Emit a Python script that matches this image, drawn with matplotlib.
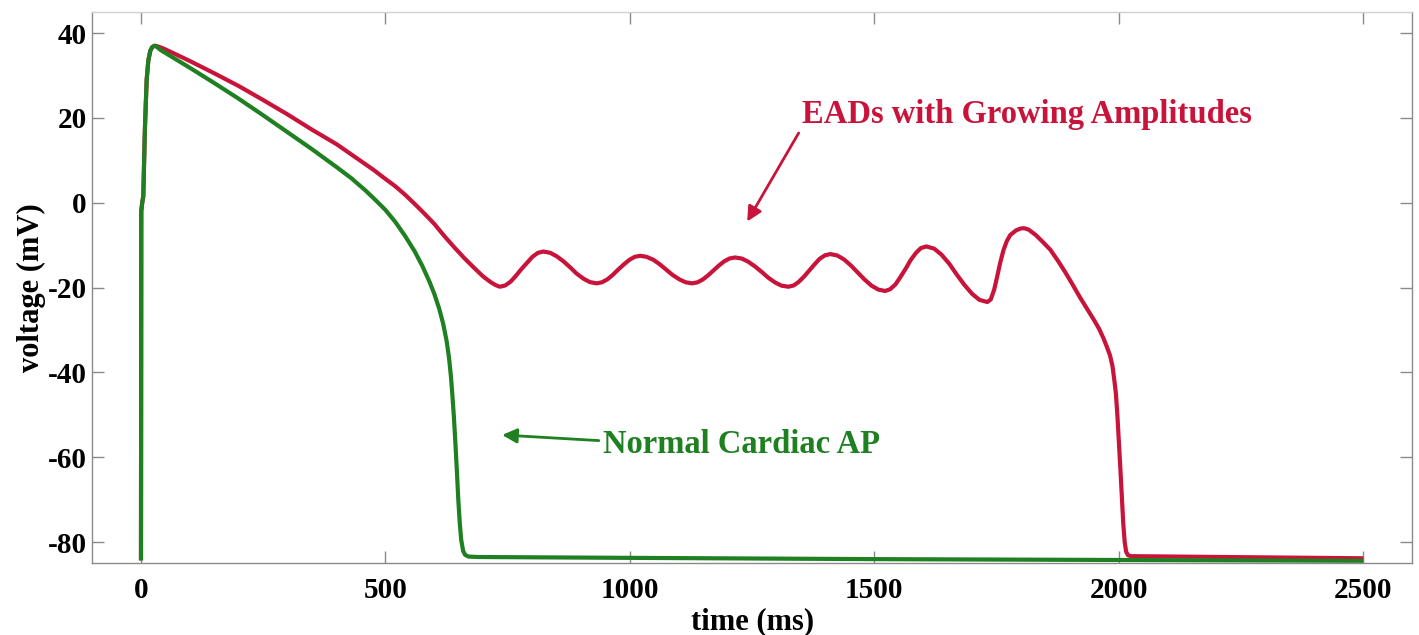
import matplotlib
matplotlib.use("Agg")
import matplotlib.pyplot as plt

# ---- data ----
t_normal = [0, 0.6, 2.5, 4.7, 6, 8, 10, 11.7, 15, 19, 23, 28, 33, 40, 60, 80, 100, 150, 200,
            250, 300, 350, 400, 430, 460, 480, 500, 520, 540, 560, 575, 590, 600, 610, 618,
            625, 630, 634, 637, 640, 643, 646, 649, 652, 655, 659, 663, 670, 690, 1000, 1500,
            2000, 2500]
v_normal = [-84.3, -2, 0, 1.5, 8, 17.3, 24, 29.1, 33.5, 35.8, 36.7, 37.0, 36.7, 36.0, 34.6,
            33.2, 31.8, 28.2, 24.5, 20.6, 16.6, 12.6, 8.4, 5.8, 2.8, 0.6, -1.7, -4.5, -7.8,
            -11.5, -14.8, -18.6, -21.5, -25.0, -28.5, -32.5, -36.5, -41.0, -45.5, -50.5, -56.5,
            -63.0, -70.0, -75.5, -79.5, -82.1, -83.0, -83.4, -83.5, -83.7, -84.0, -84.2, -84.4]

t_ead = [0, 0.6, 2.5, 4.7, 6, 8, 10, 11.7, 15, 19, 23, 28, 33, 40, 45, 60, 80, 100, 150, 200,
         250, 300, 350, 400, 450, 475, 500, 520, 540, 560, 580, 600, 620, 640, 660, 680, 700,
         715, 725, 734,
         745, 756, 767, 778, 790, 801, 812, 823,
         837, 850, 864, 878, 891, 905, 918, 932,
         943, 954, 965, 976, 988, 999, 1010, 1021,
         1034, 1048, 1061, 1074, 1087, 1101, 1114, 1127,
         1138, 1149, 1160, 1171, 1182, 1193, 1204, 1215,
         1229, 1242, 1256, 1270, 1283, 1297, 1310, 1324,
         1335, 1345, 1356, 1367, 1378, 1388, 1399, 1410,
         1424, 1438, 1452, 1466, 1480, 1494, 1508, 1522,
         1532, 1543, 1553, 1564, 1574, 1585, 1595, 1606,
         1622, 1637, 1653, 1668, 1684, 1700, 1715, 1731,
         1738, 1745, 1751, 1757, 1764, 1771, 1778, 1790, 1800, 1806,
         1815, 1830, 1845, 1860, 1875, 1890, 1905, 1920, 1935, 1950, 1960, 1968, 1975, 1982,
         1987, 1991, 1994, 1997, 2000, 2003, 2006, 2009, 2012, 2015, 2019, 2025, 2500]
v_ead = [-84.3, -2, 0, 1.5, 8, 17.3, 24, 29.1, 33.5, 35.8, 36.7, 37.0, 36.9, 36.6, 36.4, 35.6,
         34.5, 33.4, 30.5, 27.5, 24.2, 20.8, 17.2, 13.8, 9.8, 7.8, 5.6, 3.9, 1.9, -0.3, -2.6,
         -5.0, -7.8, -10.4, -12.9, -15.2, -17.4, -18.7, -19.4, -19.8,
         -19.5, -18.6, -17.2, -15.65, -14.1, -12.7, -11.8, -11.5,
         -11.8, -12.6, -13.8, -15.25, -16.7, -17.9, -18.7, -19.0,
         -18.75, -18.05, -17.0, -15.75, -14.5, -13.45, -12.75, -12.5,
         -12.75, -13.45, -14.5, -15.75, -17.0, -18.05, -18.75, -19.0,
         -18.77, -18.1, -17.1, -15.95, -14.8, -13.8, -13.13, -12.9,
         -13.16, -13.9, -15.03, -16.35, -17.67, -18.8, -19.54, -19.8,
         -19.5, -18.68, -17.42, -15.95, -14.48, -13.22, -12.39, -12.1,
         -12.43, -13.37, -14.79, -16.45, -18.11, -19.53, -20.47, -20.8,
         -20.4, -19.27, -17.56, -15.55, -13.54, -11.83, -10.7, -10.3,
         -10.8, -12.21, -14.35, -16.85, -19.35, -21.49, -22.9, -23.4,
         -22.8, -20.5, -17.5, -14.3, -11.2, -9.0, -7.6, -6.5, -6.05, -6.0,
         -6.3, -7.6, -9.3, -11.1, -13.6, -16.3, -19.2, -22.2, -25.0, -27.8, -29.8, -31.8,
         -33.8, -36.0, -38.5, -42.0, -45.0, -50.0, -56.0, -62.4, -69.0, -75.5, -80.0, -82.3,
         -83.1, -83.3, -83.8]

x_ticks = [0, 500, 1000, 1500, 2000, 2500]
y_ticks = [-80, -60, -40, -20, 0, 20, 40]

RED = "#C8143A"
GREEN = "#1E8020"

plt.rcParams['font.family'] = ['Liberation Serif', 'DejaVu Serif']
plt.rcParams['font.weight'] = 'bold'
plt.rcParams['axes.unicode_minus'] = False

fig = plt.figure(figsize=(14.19, 6.35), dpi=100)
ax = fig.add_axes([0.0649, 0.1128, 0.9952 - 0.0649, 0.9814 - 0.1128])

ax.plot(t_ead, v_ead, color=RED, lw=3.0, solid_joinstyle='round', solid_capstyle='butt')
ax.plot(t_normal, v_normal, color=GREEN, lw=3.0, solid_joinstyle='round', solid_capstyle='butt')

ax.set_xlim(-100, 2600)
ax.set_ylim(-85, 45)
ax.set_xticks(x_ticks)
ax.set_yticks(y_ticks)
ax.tick_params(direction='in', length=8.5, width=1.0, color='#8a8a8a',
               top=True, right=True, labelsize=21)
ax.tick_params(axis='x', pad=10)
ax.tick_params(axis='y', pad=4)
for lab in ax.get_xticklabels() + ax.get_yticklabels():
    lab.set_fontweight('bold')

for side in ['left', 'bottom', 'right']:
    ax.spines[side].set_color('#8a8a8a')
    ax.spines[side].set_linewidth(1.0)
ax.spines['top'].set_color('#d0d0d0')
ax.spines['top'].set_linewidth(1.0)

ax.set_xlabel('time (ms)', fontsize=22, fontweight='bold')
ax.set_ylabel('voltage (mV)', fontsize=22, fontweight='bold')
ax.xaxis.set_label_coords(0.5, -0.079)
ax.yaxis.set_label_coords(-0.035, 0.5)

ax.annotate('', xy=(1237, -5.0), xytext=(1348, 17.0),
            arrowprops=dict(arrowstyle='-|>', color=RED, lw=2, mutation_scale=22))
ax.text(1352, 18.9, 'EADs with Growing Amplitudes', color=RED, fontsize=23.5,
        fontweight='bold', ha='left', va='baseline')

ax.annotate('', xy=(733, -54.7), xytext=(942, -56.1),
            arrowprops=dict(arrowstyle='-|>', color=GREEN, lw=2, mutation_scale=22))
ax.text(945, -59.0, 'Normal Cardiac AP', color=GREEN, fontsize=23.5,
        fontweight='bold', ha='left', va='baseline')

fig.savefig('out.png', dpi=100)
